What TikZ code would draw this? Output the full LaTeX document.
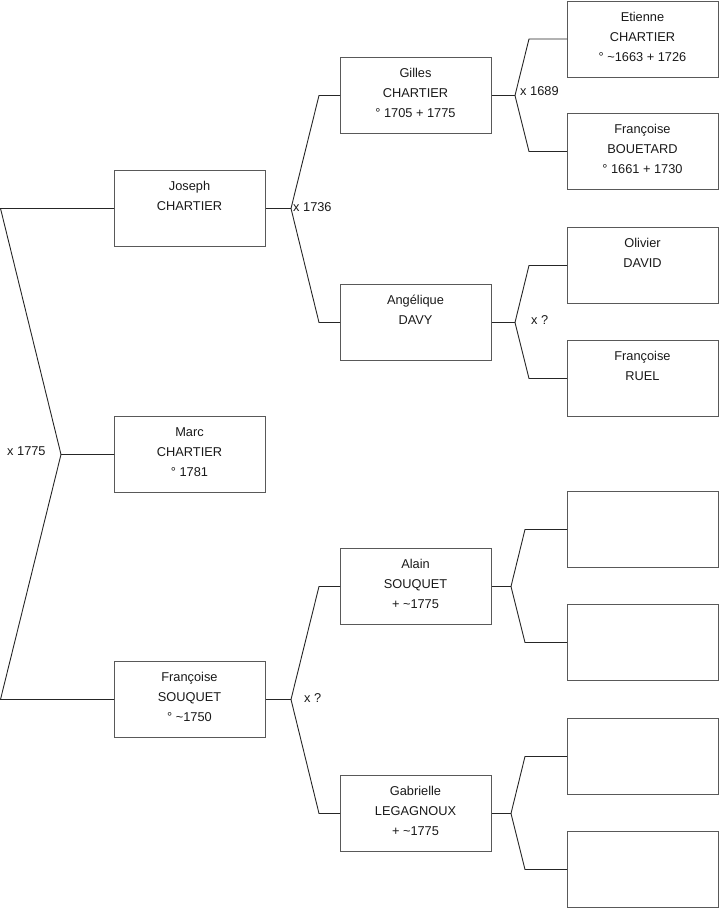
\documentclass[tikz,border=0pt]{standalone}
\usepackage{fontspec}
\setmainfont{Liberation Sans}
\tikzset{
  pbox/.style={draw=black!65, line width=0.9pt, minimum width=151pt, minimum height=76pt, inner sep=0pt, anchor=north west},
  pline/.style={anchor=base, inner sep=0pt, font=\fontsize{12.8}{15}\selectfont, text=black!90},
  mlabel/.style={anchor=base west, inner sep=0pt, font=\fontsize{12.8}{15}\selectfont, text=black!90},
  conn/.style={draw=black!85, line width=0.9pt}
}
\newcommand\perso[6]{%
  \node[pbox] (#1) at (#2,#3) {};
  \node[pline] (#1-a) at ({#2+75.5},{#3+20.5}) {#4};
  \node[pline] (#1-b) at ({#2+75.5},{#3+40.5}) {#5};
  \node[pline] (#1-c) at ({#2+75.5},{#3+60.5}) {#6};
}
\newcommand\persoB[5]{%
  \node[pbox] (#1) at (#2,#3) {};
  \node[pline] (#1-a) at ({#2+75.5},{#3+20.5}) {#4};
  \node[pline] (#1-b) at ({#2+75.5},{#3+40.5}) {#5};
}
\begin{document}
\begin{tikzpicture}[x=1pt,y=-1pt]
\useasboundingbox (0,0) rectangle (719,908);
% generation 1
\persoB{joseph}{114}{170}{Joseph}{CHARTIER}
\perso{marc}{114}{416}{Marc}{CHARTIER}{° 1781}
\perso{fsouquet}{114}{661}{Françoise}{SOUQUET}{° \textasciitilde1750}
% generation 2
\perso{gilles}{340}{57}{Gilles}{CHARTIER}{° 1705 + 1775}
\persoB{angelique}{340}{284}{Angélique}{DAVY}
\perso{alain}{340}{548}{Alain}{SOUQUET}{+ \textasciitilde1775}
\perso{gabrielle}{340}{775}{Gabrielle}{LEGAGNOUX}{+ \textasciitilde1775}
% generation 3
\perso{etienne}{567}{0.5}{Etienne}{CHARTIER}{° \textasciitilde1663 + 1726}
\perso{bouetard}{567}{113}{Françoise}{BOUETARD}{° 1661 + 1730}
\persoB{olivier}{567}{227}{Olivier}{DAVID}
\persoB{ruel}{567}{340}{Françoise}{RUEL}
\node[pbox] (e1) at (567,491) {};
\node[pbox] (e2) at (567,604) {};
\node[pbox] (e3) at (567,718) {};
\node[pbox] (e4) at (567,831) {};
% junction points
\coordinate (r1) at (joseph.west -| 0.5,0);
\coordinate (r2) at (fsouquet.west -| 0.5,0);
\coordinate (j0) at (marc.west -| 61,0);
\coordinate (j1) at (joseph.east -| 291,0);
\coordinate (j2) at (fsouquet.east -| 291,0);
\coordinate (j3) at (gilles.east -| 515,0);
\coordinate (j4) at (angelique.east -| 515,0);
\coordinate (j5) at (alain.east -| 511,0);
\coordinate (j6) at (gabrielle.east -| 511,0);
% connectors
\draw[conn] (joseph.west) -- (r1) -- (j0) -- (marc.west);
\draw[conn] (fsouquet.west) -- (r2) -- (j0);
\draw[conn] (joseph.east) -- (j1);
\draw[conn] (gilles.west) -- ++(-21,0) -- (j1) -- ([xshift=-21pt]angelique.west) -- (angelique.west);
\draw[conn] (fsouquet.east) -- (j2);
\draw[conn] (alain.west) -- ++(-21,0) -- (j2) -- ([xshift=-21pt]gabrielle.west) -- (gabrielle.west);
\draw[conn] (gilles.east) -- (j3);
\draw[conn] (etienne.west) -- ++(-38,0) -- (j3) -- ([xshift=-38pt]bouetard.west) -- (bouetard.west);
\draw[conn] (angelique.east) -- (j4);
\draw[conn] (olivier.west) -- ++(-38,0) -- (j4) -- ([xshift=-38pt]ruel.west) -- (ruel.west);
\draw[conn] (alain.east) -- (j5);
\draw[conn] (e1.west) -- ++(-42,0) -- (j5) -- ([xshift=-42pt]e2.west) -- (e2.west);
\draw[conn] (gabrielle.east) -- (j6);
\draw[conn] (e3.west) -- ++(-42,0) -- (j6) -- ([xshift=-42pt]e4.west) -- (e4.west);
% marriage labels
\node[mlabel] (m0) at (7,455.5) {x 1775};
\node[mlabel] (m1) at (293,211.5) {x 1736};
\node[mlabel] (m2) at (304,702.5) {x ?};
\node[mlabel] (m3) at (520,95.5) {x 1689};
\node[mlabel] (m4) at (531,324.5) {x ?};
\end{tikzpicture}
\end{document}
